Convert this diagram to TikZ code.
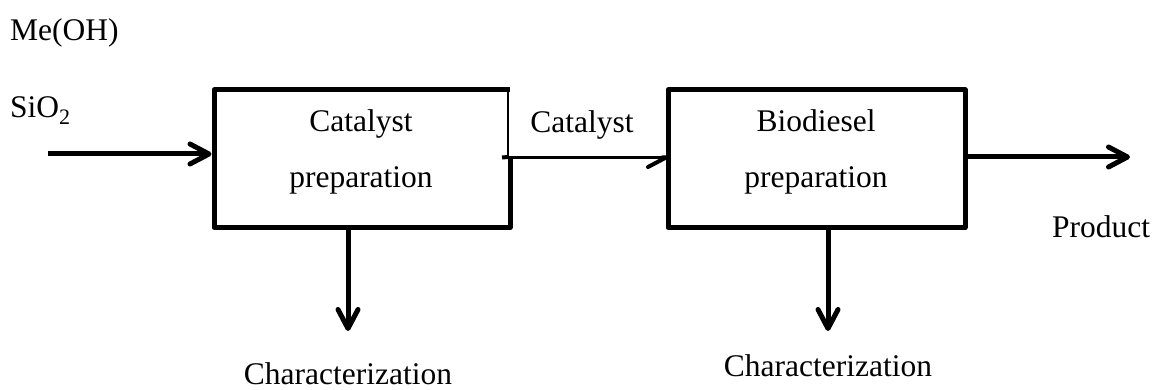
\documentclass[tikz,border=0pt]{standalone}
\usepackage{fontspec}
\setmainfont{Liberation Serif}
\usetikzlibrary{arrows.meta}
\begin{document}
\begin{tikzpicture}[x=1pt,y=-1pt,
  lbl/.style={inner sep=0pt,font=\fontsize{31.5}{38}\selectfont},
  box/.style={minimum width=297pt,minimum height=137.5pt,inner sep=0pt,outer sep=0pt},
  frame/.style={line width=5pt,line join=round},
  flow/.style={line width=5pt,-{Straight Barb[length=19pt,width=20pt,round]}},
  thinflow/.style={line width=2.8pt,-{Straight Barb[right,length=18pt,width=19pt,line width=4pt,round]}}]
\useasboundingbox (0,0) rectangle (1153,390);

% process blocks
\node[box,minimum width=296pt] (cat) at (362,158.75) {};
\node[box,draw,frame] (bio) at (816.5,158.75) {};

% outline of the catalyst block (upper right side drawn thin)
\coordinate (joint) at (cat.east |- 0,157);
\draw[frame] (joint) -- (cat.south east) -- (cat.south west) -- (cat.north west) -- (cat.north east);
\draw[line width=1.6pt] ([xshift=-2pt]cat.north east) -- ([xshift=-2pt]joint);

% texts
\node[lbl,anchor=base west] (meoh) at (10,41) {Me(OH)};
\node[lbl,anchor=base west] (sio) at (10,118) {SiO\textsubscript{2}};
\node[lbl,anchor=base] (cat1) at (361,132) {Catalyst};
\node[lbl,anchor=base] (cat2) at (361,187) {preparation};
\node[lbl,anchor=base] (mid) at (582,133) {Catalyst};
\node[lbl,anchor=base] (bio1) at (816,132) {Biodiesel};
\node[lbl,anchor=base] (bio2) at (816,187) {preparation};
\node[lbl,anchor=base west] (prod) at (1052,237) {Product};
\node[lbl,anchor=base] (char1) at (348,384) {Characterization};
\node[lbl,anchor=base] (char2) at (828,376) {Characterization};

% end points of the connectors
\coordinate (feed) at (48,154);
\coordinate (out) at (1130,157);
\coordinate (stub) at (502,157.5);
\coordinate (down1) at (348,331);
\coordinate (down2) at (828,331);

% connectors
\draw[flow] (feed) -- ([xshift=-2.5pt]cat.west |- feed);
\draw[line width=4pt] (stub) -- ([xshift=-2pt]joint);
\draw[thinflow] (stub) -- (bio.west |- stub);
\draw[flow] (bio.east |- out) -- (out);
\draw[flow] (cat.south -| down1) -- (down1);
\draw[flow] (bio.south -| down2) -- (down2);
\end{tikzpicture}
\end{document}
